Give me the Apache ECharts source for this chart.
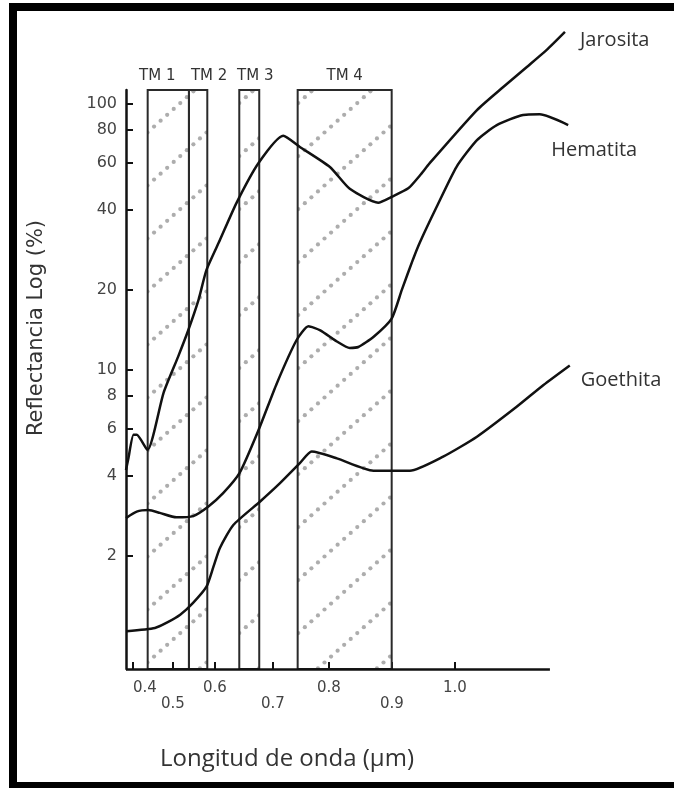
<!DOCTYPE html>
<html>
<head>
<meta charset="utf-8">
<title>Reflectancia</title>
<script src="https://cdn.jsdelivr.net/npm/echarts@6/dist/echarts.min.js"></script>
<style>
html, body { margin: 0; padding: 0; background: #fff; }
#main { width: 674px; height: 788px; }
</style>
</head>
<body>
<div id="main"></div>
<script>
// longitud de onda (um) / reflectancia (%)
var jarositaX = [0.387, 0.391, 0.401, 0.407, 0.427, 0.457, 0.484, 0.503, 0.522, 0.537, 0.562, 0.593, 0.634, 0.680, 0.711, 0.767, 0.804, 0.857, 0.882, 0.913, 0.935, 0.953, 1.041, 1.090, 1.134, 1.171, 1.205];
var jarositaY = [4.2, 4.6, 5.7, 5.7, 5.0, 8.2, 11.2, 14.1, 18.3, 23.8, 30.8, 42.5, 60, 76, 69, 58, 48, 42.6, 44.8, 48.2, 54, 60, 95, 116, 138, 160, 187];

var hematitaX = [0.387, 0.407, 0.429, 0.450, 0.481, 0.512, 0.540, 0.568, 0.599, 0.634, 0.668, 0.705, 0.727, 0.749, 0.780, 0.804, 0.820, 0.848, 0.882, 0.901, 0.922, 0.935, 0.966, 1.003, 1.041, 1.078, 1.127, 1.158, 1.211];
var hematitaY = [2.77, 2.93, 2.97, 2.90, 2.79, 2.82, 3.06, 3.44, 4.11, 5.94, 8.9, 12.96, 14.6, 14.1, 12.8, 12.1, 12.2, 13.3, 15.6, 20.0, 26.1, 30.3, 41.1, 58.1, 73.2, 83.4, 91, 91.5, 83.4];

var goethitaX = [0.388, 0.441, 0.463, 0.488, 0.512, 0.537, 0.550, 0.562, 0.587, 0.637, 0.674, 0.711, 0.733, 0.780, 0.848, 0.916, 0.978, 1.041, 1.115, 1.165, 1.214];
var goethitaY = [1.04, 1.07, 1.12, 1.20, 1.33, 1.53, 1.82, 2.14, 2.61, 3.20, 3.75, 4.46, 4.93, 4.65, 4.18, 4.18, 4.72, 5.61, 7.27, 8.78, 10.4];

// bandas Landsat TM
var bandNames = ['TM 1', 'TM 2', 'TM 3', 'TM 4'];
var bandStart = [0.4274, 0.5043, 0.5981, 0.7069];
var bandEnd = [0.5043, 0.5385, 0.6353, 0.8821];

// el eje del dibujo no es regular: marcas donde las pone la figura
var xTickValues = [0.4, 0.4745, 0.5528, 0.6609, 0.7652, 0.8826, 1.0];
var xTickLabels = ['0.4', '0.5', '0.6', '0.7', '0.8', '0.9', '1.0'];
var yTickValues = [2, 4, 6, 8, 10, 20, 40, 60, 80, 100];
var xAxisEnd = 1.177;   // donde termina la linea del eje

function pairs(xs, ys) {
    return xs.map(function (x, i) { return [x, ys[i]]; });
}

// trama de puntos grises en diagonal
function makeHatch() {
    var w = 59, h = 53, n = 9;
    var c = document.createElement('canvas');
    c.width = w;
    c.height = h;
    var ctx = c.getContext('2d');
    ctx.fillStyle = '#adadad';
    for (var i = 0; i < n; i++) {
        var t = (i + 0.5) / n;
        ctx.beginPath();
        ctx.arc(t * w, h - t * h, 2.1, 0, Math.PI * 2);
        ctx.fill();
    }
    return {image: c, repeat: 'repeat'};
}
var hatch = makeHatch();

function renderBand(params, api) {
    var cs = params.coordSys;
    var x0 = api.coord([api.value(0), 10])[0];
    var x1 = api.coord([api.value(1), 10])[0];
    var shift = [-11, 11, 6, 0][params.dataIndex];
    return {
        type: 'group',
        children: [{
            type: 'rect',
            shape: {x: x0, y: cs.y, width: x1 - x0, height: cs.height},
            style: {fill: hatch, stroke: '#2a2a2a', lineWidth: 2}
        }, {
            type: 'text',
            x: (x0 + x1) / 2 + shift,
            y: cs.y - 14,
            style: {
                text: bandNames[params.dataIndex],
                fill: '#333',
                fontSize: 15,
                fontFamily: 'DejaVu Sans',
                align: 'center',
                verticalAlign: 'middle'
            }
        }]
    };
}

function curve(name, data, labelOffset) {
    return {
        name: name,
        type: 'line',
        data: data,
        clip: false,
        z: 3,
        smooth: 0.2,
        showSymbol: false,
        lineStyle: {color: '#111', width: 2.5},
        endLabel: {
            show: true,
            formatter: '{a}',
            offset: labelOffset,
            color: '#333',
            fontSize: 20,
            fontFamily: 'Open Sans'
        }
    };
}

var myChart = echarts.init(document.getElementById('main'));

var jarosita = curve('Jarosita', pairs(jarositaX, jarositaY), [7, 8]);
// linea del eje x, que no llega al final de las curvas
jarosita.markLine = {
    silent: true,
    symbol: 'none',
    label: {show: false},
    emphasis: {disabled: true},
    lineStyle: {color: '#111', width: 2.5, type: 'solid'},
    data: [[{coord: [0.387, 0.75]}, {coord: [xAxisEnd, 0.75]}]]
};

var option = {
    animation: false,
    backgroundColor: '#fff',
    grid: {left: 126, right: 101, top: 90, bottom: 119},
    xAxis: {
        type: 'value',
        min: 0.387,
        max: 1.22,
        splitLine: {show: false},
        axisLine: {show: false},
        axisTick: {show: true, inside: true, length: 7, customValues: xTickValues, lineStyle: {color: '#111', width: 2}},
        axisLabel: {
            customValues: xTickValues,
            margin: 11,
            color: '#444',
            fontSize: 15,
            lineHeight: 16,
            fontFamily: 'DejaVu Sans',
            formatter: function (v) {
                var idx = 0;
                for (var i = 0; i < xTickValues.length; i++) {
                    if (Math.abs(xTickValues[i] - v) < Math.abs(xTickValues[idx] - v)) idx = i;
                }
                if (idx === 0) return '{p|' + xTickLabels[idx] + '}';
                return (idx % 2 ? '\n' : '') + xTickLabels[idx];
            },
            rich: {
                p: {padding: [0, 0, 0, 24], color: '#444', fontSize: 15, fontFamily: 'DejaVu Sans'}
            }
        }
    },
    yAxis: {
        type: 'log',
        logBase: 10,
        min: 0.75,
        max: 113,
        splitLine: {show: false},
        minorTick: {show: false},
        axisLine: {show: true, lineStyle: {color: '#111', width: 2.5}},
        axisTick: {show: true, inside: true, length: 7, customValues: yTickValues, lineStyle: {color: '#111', width: 2}},
        axisLabel: {
            customValues: yTickValues,
            margin: 9,
            color: '#444',
            fontSize: 16,
            fontFamily: 'DejaVu Sans',
            formatter: function (v) { return String(Math.round(v)); }
        }
    },
    graphic: [
        {type: 'rect', left: 9, top: 3, shape: {width: 8, height: 785}, style: {fill: '#000'}},
        {type: 'rect', left: 9, top: 3, shape: {width: 665, height: 8}, style: {fill: '#000'}},
        {type: 'rect', left: 9, top: 782, shape: {width: 665, height: 6}, style: {fill: '#000'}},
        {
            type: 'text', x: 37, y: 328, rotation: Math.PI / 2,
            style: {text: 'Reflectancia Log (%)', fill: '#333', fontSize: 21, fontFamily: 'DejaVu Sans', align: 'center', verticalAlign: 'middle'}
        },
        {
            type: 'text', x: 287, y: 759,
            style: {text: 'Longitud de onda (µm)', fill: '#333', fontSize: 24, fontFamily: 'Open Sans', align: 'center', verticalAlign: 'middle'}
        }
    ],
    series: [
        {
            type: 'custom',
            silent: true,
            z: 1,
            renderItem: renderBand,
            encode: {x: [0, 1]},
            data: bandStart.map(function (s, i) { return [s, bandEnd[i]]; })
        },
        jarosita,
        curve('Hematita', pairs(hematitaX, hematitaY), [-25, 25]),
        curve('Goethita', pairs(goethitaX, goethitaY), [3, 15])
    ]
};
myChart.setOption(option);
</script>
</body>
</html>
